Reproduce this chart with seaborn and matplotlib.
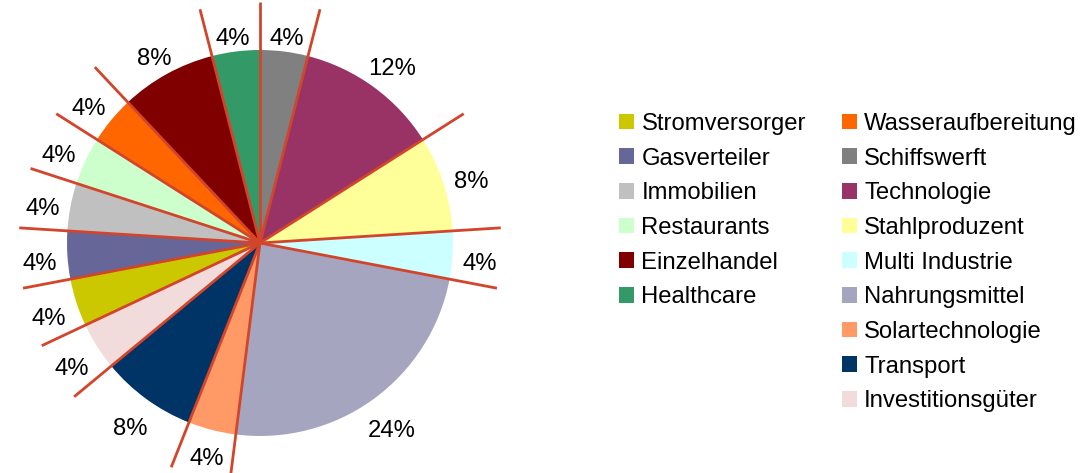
import numpy as np
import matplotlib.pyplot as plt
from matplotlib.patches import Patch
import seaborn as sns

# pie slices, clockwise from 12 o'clock
pie_names = ['Schiffswerft', 'Technologie', 'Stahlproduzent', 'Multi Industrie',
             'Nahrungsmittel', 'Solartechnologie', 'Transport', 'Investitionsgüter',
             'Stromversorger', 'Gasverteiler', 'Immobilien', 'Restaurants',
             'Wasseraufbereitung', 'Einzelhandel', 'Healthcare']
pie_values = [4, 12, 8, 4, 24, 4, 8, 4, 4, 4, 4, 4, 4, 8, 4]

colors = {
    'Stromversorger': '#CCC800', 'Gasverteiler': '#666699', 'Immobilien': '#C0C0C0',
    'Restaurants': '#CCFFCC', 'Einzelhandel': '#800000', 'Healthcare': '#339966',
    'Wasseraufbereitung': '#FF6600', 'Schiffswerft': '#808080', 'Technologie': '#993366',
    'Stahlproduzent': '#FFFF99', 'Multi Industrie': '#CCFFFF', 'Nahrungsmittel': '#A6A5C0',
    'Solartechnologie': '#FF9966', 'Transport': '#003366', 'Investitionsgüter': '#F2DCDB',
}

# legend order (two columns)
legend_col1 = ['Stromversorger', 'Gasverteiler', 'Immobilien', 'Restaurants',
               'Einzelhandel', 'Healthcare']
legend_col2 = ['Wasseraufbereitung', 'Schiffswerft', 'Technologie', 'Stahlproduzent',
               'Multi Industrie', 'Nahrungsmittel', 'Solartechnologie', 'Transport',
               'Investitionsgüter']

sns.set_theme(style='white')
plt.rcParams['font.family'] = ['Liberation Sans', 'DejaVu Sans']
plt.rcParams['text.color'] = 'black'

W, H = 1081, 473
fig = plt.figure(figsize=(W / 100, H / 100), dpi=100)

# pie: centre (260,243) px, radius 193 px
R_px, lim = 193, 1.35
half = lim * R_px
ax = fig.add_axes([(260 - half) / W, (H - 243 - half) / H, 2 * half / W, 2 * half / H])

pal = sns.color_palette([colors[n] for n in pie_names])
wedges, texts, autotexts = ax.pie(
    pie_values, colors=pal, startangle=90, counterclock=False,
    autopct='%.0f%%', pctdistance=1.12, wedgeprops=dict(linewidth=0))
for t in autotexts:
    t.set_fontsize(17.2)
    t.set_color('black')

ax.set_xlim(-lim, lim)
ax.set_ylim(-lim, lim)
ax.set_aspect('equal')
ax.axis('off')

# place labels "outside end": text box just clear of a circle around the pie
fig.canvas.draw()
r0, b = 203 / R_px, 9 / R_px
for w, t in zip(wedges, autotexts):
    mid = np.deg2rad((w.theta1 + w.theta2) / 2)
    ux, uy = np.cos(mid), np.sin(mid)
    a = t.get_window_extent().width / 2 / R_px
    p = abs(ux) * a + abs(uy) * b
    d = p + np.sqrt(p ** 2 - (a ** 2 + b ** 2 - r0 ** 2))
    t.set_position((d * ux, d * uy - 0.038))

# red rays along each slice border
cum = np.cumsum([0] + pie_values[:-1])
for c in cum:
    ang = np.deg2rad(90 - c * 3.6)
    ax.plot([0, 1.25 * np.cos(ang)], [0, 1.25 * np.sin(ang)], color='#D2452B', lw=2,
            solid_capstyle='butt', clip_on=False, zorder=5)

blank = Patch(facecolor='none', edgecolor='none')
handles = [Patch(facecolor=colors[n], edgecolor='none') for n in legend_col1] + [blank] * 3
labels = legend_col1 + [''] * 3
handles += [Patch(facecolor=colors[n], edgecolor='none') for n in legend_col2]
labels += legend_col2

leg = fig.legend(handles, labels, ncol=2, loc='upper left',
                 bbox_to_anchor=(619 / W, 1 - 113 / H), frameon=False, fontsize=17.2,
                 borderpad=0, borderaxespad=0, handlelength=0.64, handleheight=0.64,
                 handletextpad=0.3, labelspacing=0.53, columnspacing=1.5)
for t in leg.get_texts():
    t.set_color('black')

fig.savefig('out.png', dpi=100)
